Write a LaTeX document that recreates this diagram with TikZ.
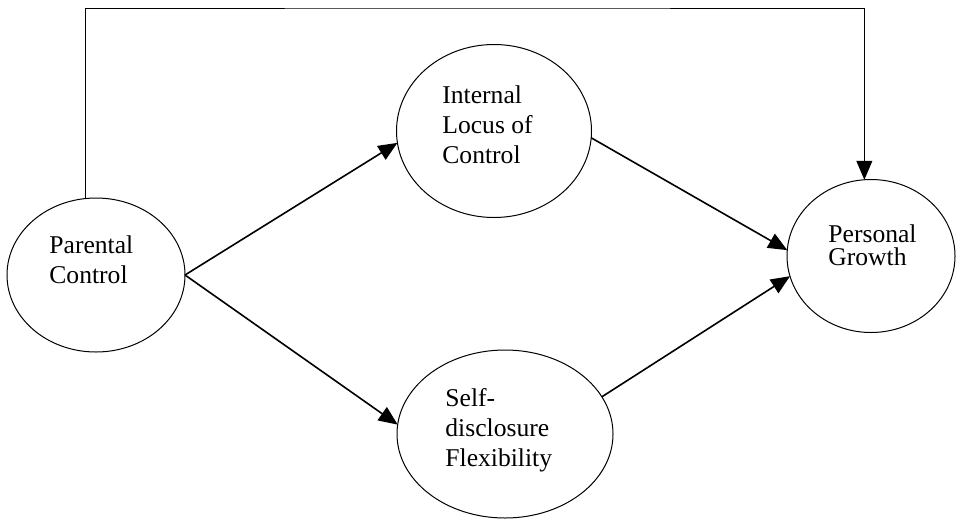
\documentclass[tikz,border=0pt]{standalone}
\usepackage{fontspec}
\setmainfont{Liberation Serif}
\usetikzlibrary{shapes.geometric,arrows.meta}

\begin{document}
\begin{tikzpicture}[x=0.5pt, y=-0.5pt,
		var/.style={draw, ellipse, line width=0.5pt, inner sep=0pt, outer sep=0pt},
		txt/.style={anchor=west, align=left, inner sep=0pt, font=\fontsize{12.8}{15}\selectfont},
		arr/.style={line width=0.8pt, -{Triangle[length=9.5pt,width=8pt]}}]
			 \useasboundingbox (0,0) rectangle (956,520);
			 \node[var, minimum width=89pt, minimum height=77pt] (pc)at(96,275) {};
			 \node[var, minimum width=97.5pt, minimum height=86.5pt] (ilc)at(494,131) {};
			 \node[var, minimum width=108pt, minimum height=84pt] (sdf)at(505,434) {};
			 \node[var, minimum width=84pt, minimum height=76.5pt] (pg)at(871,256) {};
			 \node[txt] (pcText)at(49,260) {Parental\\Control};
			 \node[txt] (ilcText)at(442,125) {Internal\\Locus of\\Control};
			 \node[txt] (sdfText)at(445,430) {Self-\\disclosure\\Flexibility};
			 \node[txt, font=\fontsize{12.8}{11.5}\selectfont] (pgText)at(828,245) {Personal\\Growth};
			 \coordinate (top)at(480,8);
			 \draw[arr] (pc.east) -- (ilc.187);
			 \draw[arr] (pc.east) -- (sdf.175);
			 \draw[arr] (ilc.356) -- (pg.176);
			 \draw[arr] (sdf.21) -- (pg.194);
			 \draw[arr, line width=0.5pt] (pc.98) |- (top) -| (pg.95);
		\end{tikzpicture}
\end{document}
